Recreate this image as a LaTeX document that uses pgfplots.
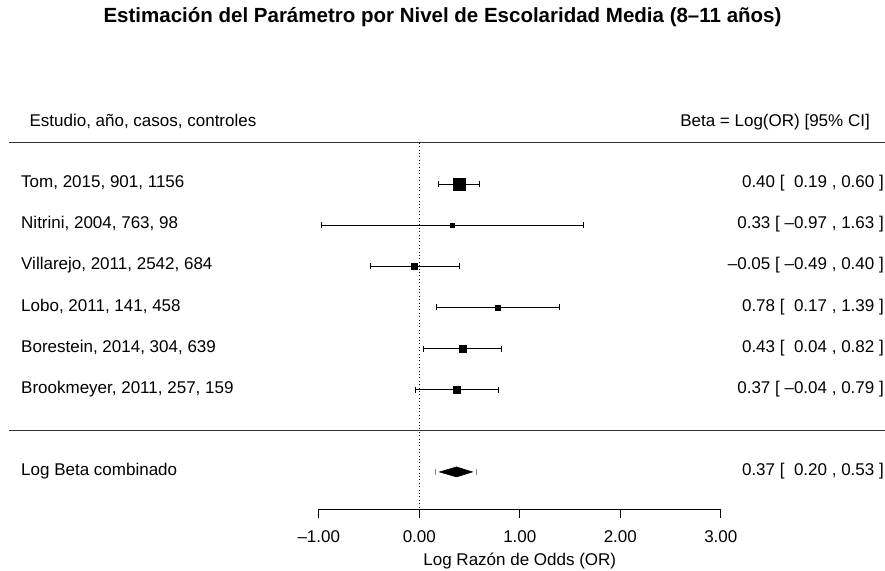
\documentclass[border=0pt]{standalone}
\usepackage{pgfplots}
\pgfplotsset{compat=1.18}
\usepackage{pgfplotstable}
\usepackage{fontspec}
\setmainfont{Liberation Sans}

% row: vertical position, est/lo/hi: log OR and 95% CI, sz: side of the square (pt)
\pgfplotstableread{
row est lo hi sz
6 0.40 0.19 0.60 12
5 0.33 -0.97 1.63 4
4 -0.05 -0.49 0.40 6
3 0.78 0.17 1.39 5
2 0.43 0.04 0.82 7
1 0.37 -0.04 0.79 7
}\estudios

\begin{document}
\begin{tikzpicture}[
  txt/.style={inner sep=0pt, font=\fontsize{17}{20}\selectfont},
  row/.style={txt, yshift=-3.7pt},
]
\useasboundingbox (0,0) rectangle (885pt,570pt);
\begin{axis}[
  at={(0,0)}, anchor=south west,
  scale only axis, width=885pt, height=570pt,
  xmin=-4.1721, xmax=4.6338, ymin=-3.3836, ymax=10.4715,
  hide axis, clip=false,
]
% horizontal rules
\addplot[black!80, line width=1.2pt] coordinates {(-4.083,7) (4.634,7)};
\addplot[black!80, line width=1.2pt] coordinates {(-4.083,0) (4.634,0)};
% reference line at zero
\addplot[black, line width=0.8pt, dash pattern=on 0.8pt off 2.6pt]
  coordinates {(0,7) (0,-1.9008)};
% confidence intervals
\addplot[draw=none, mark=none,
  error bars/.cd, x dir=both, x explicit, error mark=|,
  error bar style={black, line width=0.8pt},
  error mark options={black, line width=0.8pt, mark size=3pt}]
  table[x=est, y=row,
        x error plus expr=\thisrow{hi}-\thisrow{est},
        x error minus expr=\thisrow{est}-\thisrow{lo}] {\estudios};
% point estimates, square size by weight
\addplot[scatter, only marks, mark=square*,
  scatter/use mapped color={draw=black, fill=black},
  mark options={line width=0.3pt},
  visualization depends on={\thisrow{sz}/2 \as \msz},
  scatter/@pre marker code/.append style={/tikz/mark size=\msz}]
  table[x=est, y=row] {\estudios};
% pooled estimate
\addplot[black!45, only marks, mark=|, mark size=3pt, mark options={line width=0.8pt}]
  coordinates {(0.16,-1) (0.57,-1)};
\addplot[fill=black, draw=black, line width=0.5pt]
  coordinates {(0.20,-1) (0.37,-0.878) (0.53,-1) (0.37,-1.122)} -- cycle;

% text columns
\node[txt, anchor=base west] at (axis cs:-3.880,7.392) {Estudio, año, casos, controles};
\node[txt, anchor=base east] at (axis cs:4.484,7.392) {Beta = Log(OR) [95\% CI]};

\node[row, anchor=base west] at (axis cs:-3.963,6) {Tom, 2015, 901, 1156};
\node[row, anchor=base west] at (axis cs:-3.963,5) {Nitrini, 2004, 763, 98};
\node[row, anchor=base west] at (axis cs:-3.963,4) {Villarejo, 2011, 2542, 684};
\node[row, anchor=base west] at (axis cs:-3.963,3) {Lobo, 2011, 141, 458};
\node[row, anchor=base west] at (axis cs:-3.963,2) {Borestein, 2014, 304, 639};
\node[row, anchor=base west] at (axis cs:-3.963,1) {Brookmeyer, 2011, 257, 159};
\node[row, anchor=base west] at (axis cs:-3.963,-1) {Log Beta combinado};

\node[row, anchor=base east] at (axis cs:4.624,6) {0.40 [\ \ 0.19 , 0.60 ]};
\node[row, anchor=base east] at (axis cs:4.624,5) {0.33 [ –0.97 , 1.63 ]};
\node[row, anchor=base east] at (axis cs:4.624,4) {–0.05 [ –0.49 , 0.40 ]};
\node[row, anchor=base east] at (axis cs:4.624,3) {0.78 [\ \ 0.17 , 1.39 ]};
\node[row, anchor=base east] at (axis cs:4.624,2) {0.43 [\ \ 0.04 , 0.82 ]};
\node[row, anchor=base east] at (axis cs:4.624,1) {0.37 [ –0.04 , 0.79 ]};
\node[row, anchor=base east] at (axis cs:4.624,-1) {0.37 [\ \ 0.20 , 0.53 ]};

\node[anchor=base, inner sep=0pt, font=\bfseries\fontsize{20.5}{24}\selectfont]
  at (axis cs:0.231,9.925) {Estimación del Parámetro por Nivel de Escolaridad Media (8–11 años)};

\coordinate (xax) at (axis cs:-1,-1.9008);
\end{axis}

% scale of log odds ratio
\begin{axis}[
  at={(xax)}, anchor=south west,
  scale only axis, width=402pt, height=20pt,
  xmin=-1, xmax=3, ymin=0, ymax=1,
  axis x line*=bottom, axis y line=none, ytick=\empty,
  xtick={-1,0,1,2,3}, xticklabels={–1.00,0.00,1.00,2.00,3.00},
  xtick align=outside, major tick length=9pt,
  x axis line style={black, line width=0.9pt},
  every tick/.style={black, line width=0.9pt},
  xticklabel style={anchor=base, inner sep=0pt, yshift=-25pt,
    font=\fontsize{17}{20}\selectfont},
  xlabel={Log Razón de Odds (OR)},
  xlabel style={at={(axis description cs:0.5,0)}, anchor=base, inner sep=0pt,
    yshift=-56.5pt, font=\fontsize{17}{20}\selectfont},
]
\end{axis}
\end{tikzpicture}
\end{document}
